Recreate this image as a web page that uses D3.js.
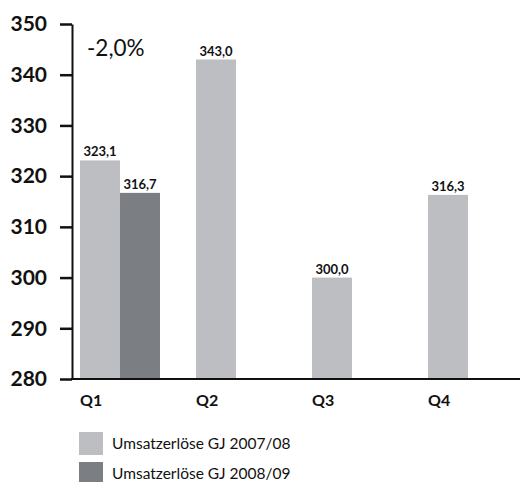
<!DOCTYPE html>
<html>
<head>
<meta charset="utf-8">
<script src="https://cdn.jsdelivr.net/npm/d3@7"></script>
<style>
  body { margin: 0; background: #fff; }
  svg { display: block; font-family: Lato, "Open Sans", sans-serif; }
</style>
</head>
<body>
<script>
var width = 522, height = 482;

// Data
var quarters = ["Q1", "Q2", "Q3", "Q4"];
var seriesNames = ["Umsatzerlöse GJ 2007/08", "Umsatzerlöse GJ 2008/09"];
var values0708 = [323.1, 343.0, 300.0, 316.3];
var values0809 = [316.7, null, null, null];
var yTicks = [280, 290, 300, 310, 320, 330, 340, 350];
var changeLabel = "-2,0%";

var colors = ["#bdbec2", "#7b7f83"];

var svg = d3.select("body").append("svg")
  .attr("width", width)
  .attr("height", height);

// Scales
var yScale = d3.scaleLinear().domain([280, 350]).range([379, 24]);
var xScale = d3.scaleBand().domain(quarters)
  .range([80, 508]).paddingInner(36 / 116).paddingOuter(0);
var sScale = d3.scaleBand().domain([0, 1]).range([0, xScale.bandwidth()]);

var fmt = function(v) { return v.toFixed(1).replace(".", ","); };

// Flatten for drawing
var bars = [];
quarters.forEach(function(q, i) {
  [values0708[i], values0809[i]].forEach(function(v, s) {
    if (v != null) bars.push({q: q, s: s, v: v});
  });
});

// Bars
svg.selectAll("rect.bar")
  .data(bars)
  .enter()
  .append("rect")
    .attr("class", "bar")
    .attr("x", function(d) { return xScale(d.q) + sScale(d.s); })
    .attr("y", function(d) { return yScale(d.v); })
    .attr("width", sScale.bandwidth())
    .attr("height", function(d) { return yScale(280) - yScale(d.v); })
    .attr("fill", function(d) { return colors[d.s]; });

// Value labels
svg.selectAll("text.val")
  .data(bars)
  .enter()
  .append("text")
    .attr("class", "val")
    .text(function(d) { return fmt(d.v); })
    .attr("x", function(d) { return xScale(d.q) + sScale(d.s) + sScale.bandwidth() / 2; })
    .attr("y", function(d) { return yScale(d.v) - 4; })
    .attr("text-anchor", "middle")
    .attr("font-size", "13px")
    .attr("font-weight", "bold")
    .attr("fill", "#111");

// Y axis
var yAxis = d3.axisLeft(yScale).tickValues(yTicks).tickSize(12).tickSizeOuter(0).tickPadding(13);
var gy = svg.append("g")
  .attr("transform", "translate(72,0)")
  .call(yAxis);
gy.select(".domain").attr("stroke", "#111").attr("stroke-width", 2);
gy.selectAll(".tick line").attr("stroke", "#111").attr("stroke-width", 2.5);
gy.selectAll(".tick text")
  .attr("font-size", "21px")
  .attr("font-family", "Lato, sans-serif")
  .attr("font-weight", "bold")
  .attr("fill", "#111");

// X baseline
svg.append("line")
  .attr("x1", 71).attr("x2", 520)
  .attr("y1", yScale(280)).attr("y2", yScale(280))
  .attr("stroke", "#111").attr("stroke-width", 2);

// Quarter labels
svg.selectAll("text.q")
  .data(quarters)
  .enter()
  .append("text")
    .attr("class", "q")
    .text(function(d) { return d; })
    .attr("x", function(d) { return xScale(d); })
    .attr("y", 406)
    .attr("font-size", "16px")
    .attr("font-weight", "bold")
    .attr("fill", "#111");

// Change annotation
svg.append("text")
  .text(changeLabel)
  .attr("x", 87).attr("y", 56)
  .attr("font-size", "22.5px")
  .attr("fill", "#111");

// Legend
var legend = svg.selectAll("g.leg")
  .data(seriesNames)
  .enter()
  .append("g")
    .attr("class", "leg")
    .attr("transform", function(d, i) { return "translate(79," + (432 + i * 30) + ")"; });
legend.append("rect")
  .attr("width", 24).attr("height", 23)
  .attr("fill", function(d, i) { return colors[i]; });
legend.append("text")
  .text(function(d) { return d; })
  .attr("x", 33).attr("y", 17)
  .attr("font-size", "15.5px")
  .attr("fill", "#111");
</script>
</body>
</html>
